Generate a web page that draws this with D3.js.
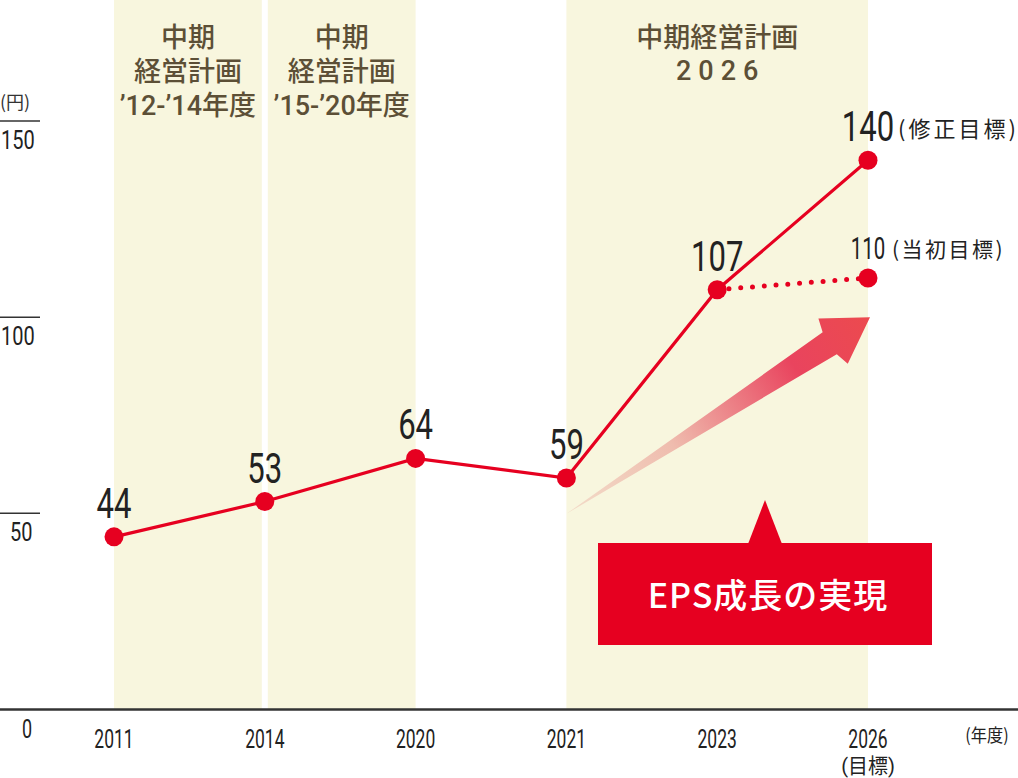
<!DOCTYPE html>
<html lang="ja"><head><meta charset="utf-8">
<script src="https://cdn.jsdelivr.net/npm/d3@7"></script>
<style>
html,body{margin:0;padding:0;background:#fff;}
svg{display:block;}
</style></head>
<body>
<svg id="chart" width="1018" height="778" lang="ja"></svg>
<script>
// ---- data ----
const years = ["2011", "2014", "2020", "2021", "2023", "2026"];
const eps = [44, 53, 64, 59, 107, 140];
const initialYears = ["2023", "2026"];
const initialTarget = [107, 110];
const yTicks = [50, 100, 150];
const planStart = ["2011", "2014", "2021"];
const planEnd = ["2014", "2020", "2026"];
const planLabels = [
  ["中期", "経営計画", "’12-’14年度"],
  ["中期", "経営計画", "’15-’20年度"],
  ["中期経営計画", "2026"]
];

const svg = d3.select("#chart");
const W = 1018, H = 778;
const x = d3.scalePoint().domain(years).range([114, 868]);
const y = d3.scaleLinear().domain([0, 150]).range([709.5, 121]);

const RED = "#e60020";
const BAND = "#f8f6de";
const BROWN = "#5c4f36";
const NUM = "Roboto, 'Noto Sans', sans-serif";
const JP = "'Noto Sans CJK JP', sans-serif";
const JPT = "Roboto, 'Noto Sans CJK JP', sans-serif"; // compact line box for stacked labels

// ---- plan bands ----
const gap = 3;
planStart.forEach((s, i) => {
  let x0 = x(s), x1 = x(planEnd[i]);
  if (i === 0) x1 -= gap;
  if (i === 1) x0 += gap;
  svg.append("rect").attr("x", x0).attr("y", 0).attr("width", x1 - x0).attr("height", y(0))
    .attr("fill", BAND);
  const cx = (x0 + x1) / 2;
  planLabels[i].forEach((line, j) => {
    const isNum = /^\d+$/.test(line);
    svg.append("text").attr("text-anchor", "middle").attr("fill", BROWN)
      .attr("font-family", JPT).attr("font-size", 27).attr("font-weight", 500)
      .attr("x", cx + (isNum ? 3.5 : 0)).attr("y", 47 + j * (i === 2 ? 33 : 34))
      .attr("letter-spacing", isNum ? 7 : 0).text(line);
  });
});

// ---- y ticks ----
yTicks.forEach(v => {
  svg.append("line").attr("x1", 0).attr("x2", 40).attr("y1", y(v)).attr("y2", y(v))
    .attr("stroke", "#333").attr("stroke-width", 1.5);
  svg.append("g").attr("transform", `translate(${v < 100 ? 10 : 1},${y(v) + 28}) scale(0.8,1)`)
    .append("text").attr("font-family", NUM).attr("font-size", 25).attr("fill", "#222").text(v);
});
svg.append("text").attr("x", 0).attr("y", 109).attr("font-family", JP).attr("font-size", 18)
  .attr("fill", "#333").text("(円)");

// ---- x axis ----
svg.append("line").attr("x1", 0).attr("x2", W).attr("y1", y(0)).attr("y2", y(0))
  .attr("stroke", "#333").attr("stroke-width", 2.5);
svg.append("g").attr("transform", `translate(27,738) scale(0.72,1)`)
  .append("text").attr("text-anchor", "middle").attr("font-family", NUM).attr("font-size", 25)
  .attr("fill", "#222").text("0");
years.forEach(yr => {
  svg.append("g").attr("transform", `translate(${x(yr)},748) scale(0.7,1)`)
    .append("text").attr("text-anchor", "middle").attr("font-family", NUM).attr("font-size", 25)
    .attr("fill", "#222").text(yr);
});
svg.append("g").attr("transform", `translate(${x("2026")},773) scale(0.95,1)`)
  .append("text").attr("text-anchor", "middle").attr("font-family", JPT).attr("font-size", 21)
  .attr("fill", "#222").text("(目標)");
svg.append("g").attr("transform", `translate(987,742) scale(0.9,1)`)
  .append("text").attr("text-anchor", "middle").attr("font-family", JP).attr("font-size", 18)
  .attr("fill", "#222").text("(年度)");

// ---- growth arrow ----
const defs = svg.append("defs");
const p0 = [x("2021"), y(50) + 0.5];
const tip = [x("2026") + 2, y(100)];
const grad = defs.append("linearGradient").attr("id", "ag").attr("gradientUnits", "userSpaceOnUse")
  .attr("x1", p0[0]).attr("y1", p0[1]).attr("x2", tip[0]).attr("y2", tip[1]);
grad.append("stop").attr("offset", 0).attr("stop-color", "#f2d9c6").attr("stop-opacity", 0.9);
grad.append("stop").attr("offset", 0.35).attr("stop-color", "#efbcae");
grad.append("stop").attr("offset", 0.75).attr("stop-color", "#e9445e");
grad.append("stop").attr("offset", 1).attr("stop-color", "#ec4a4e");
(function () {
  const dx = tip[0] - p0[0], dy = tip[1] - p0[1];
  const L = Math.hypot(dx, dy), ux = dx / L, uy = dy / L, nx = -uy, ny = ux;
  const pt = (a, b) => [p0[0] + ux * a + nx * b, p0[1] + uy * a + ny * b];
  const headL = 48;
  const pts = [p0, pt(L - headL, -13), pt(L - headL + 4, -27), tip, pt(L - headL + 4, 27), pt(L - headL, 13)];
  svg.append("path").attr("d", d3.line()(pts) + "Z").attr("fill", "url(#ag)");
})();

// ---- initial target dotted line ----
svg.append("path")
  .attr("d", d3.line().x((d, i) => x(initialYears[i])).y(d => y(d))(initialTarget))
  .attr("fill", "none").attr("stroke", RED).attr("stroke-width", 5)
  .attr("stroke-dasharray", "0 11.8").attr("stroke-linecap", "round");

// ---- EPS line ----
svg.append("path")
  .attr("d", d3.line().x((d, i) => x(years[i])).y(d => y(d))(eps))
  .attr("fill", "none").attr("stroke", RED).attr("stroke-width", 3.2);
svg.selectAll("circle.pt").data(eps).join("circle")
  .attr("cx", (d, i) => x(years[i])).attr("cy", d => y(d)).attr("r", 9.5).attr("fill", RED);
svg.append("circle").attr("cx", x(initialYears[1])).attr("cy", y(initialTarget[1]))
  .attr("r", 9.5).attr("fill", RED);

// ---- value labels ----
eps.forEach((v, i) => {
  const cx = x(years[i]);
  svg.append("g").attr("transform", `translate(${cx},${y(v) - 19}) scale(0.74,1)`)
    .append("text").attr("text-anchor", "middle").attr("font-family", NUM)
    .attr("font-size", 42).attr("fill", "#222").text(v);
});
svg.append("text").attr("x", 898).attr("y", 137).attr("font-family", JP).attr("font-size", 22)
  .attr("letter-spacing", 3).attr("fill", "#222").text("(修正目標)");
svg.append("g").attr("transform", `translate(${x("2026")},${y(initialTarget[1]) - 19}) scale(0.66,1)`)
  .append("text").attr("text-anchor", "middle").attr("font-family", NUM).attr("font-size", 31)
  .attr("fill", "#222").text(initialTarget[1]);
svg.append("text").attr("x", 892).attr("y", 257).attr("font-family", JP).attr("font-size", 21)
  .attr("letter-spacing", 2.5).attr("fill", "#222").text("(当初目標)");

// ---- callout ----
const cbx = 598, cby = 543, cbw = 334, cbh = 102, apx = 765;
svg.append("path").attr("d", d3.line()([[apx - 17, cby + 1], [apx, 500], [apx + 17, cby + 1]]) + "Z")
  .attr("fill", RED);
svg.append("rect").attr("x", cbx).attr("y", cby).attr("width", cbw).attr("height", cbh).attr("fill", RED);
svg.append("text").attr("x", cbx + cbw / 2 + 3).attr("y", cby + 65).attr("text-anchor", "middle")
  .attr("font-family", JP).attr("font-size", 34).attr("font-weight", 500).attr("fill", "#fff")
  .attr("letter-spacing", 1).text("EPS成長の実現");
</script>
</body></html>
